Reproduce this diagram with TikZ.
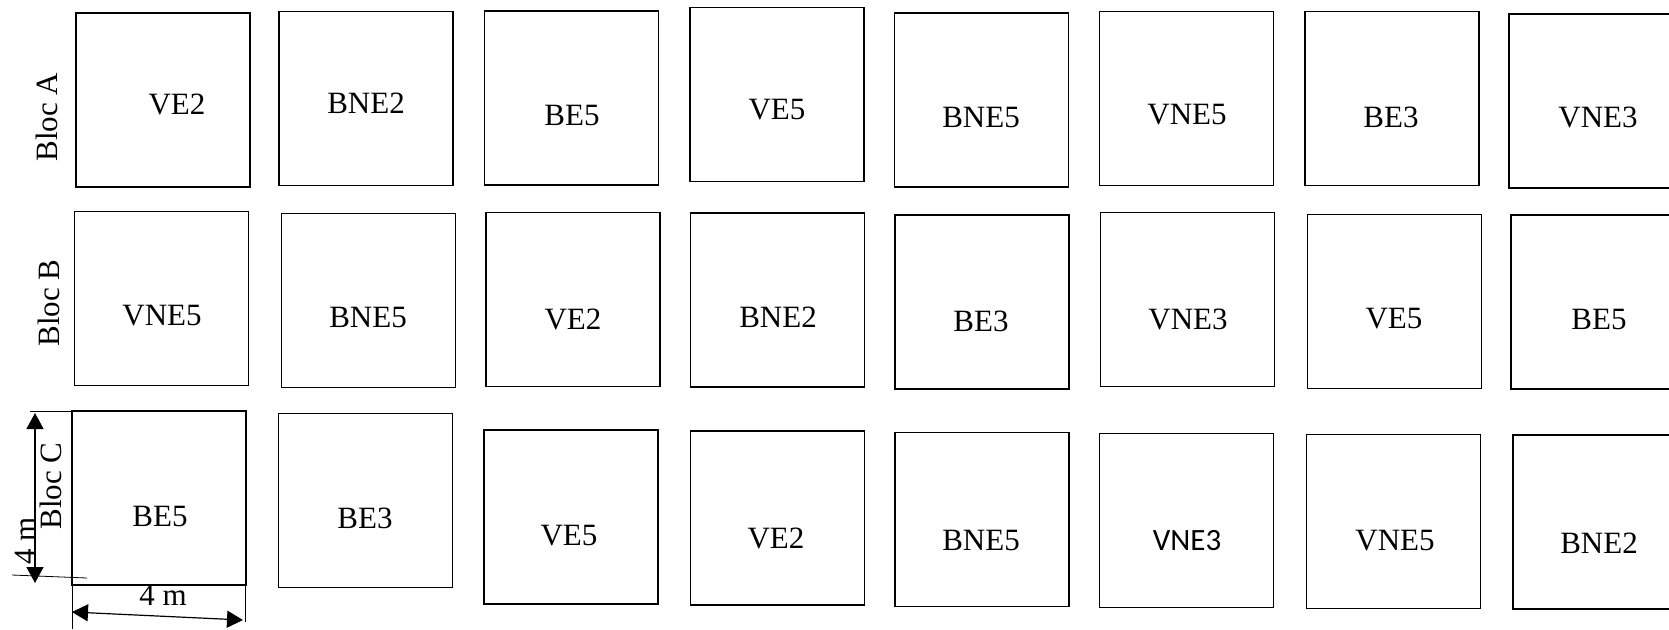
\documentclass[tikz,border=0pt]{standalone}
\usepackage{fontspec}
\setmainfont{Liberation Serif}
\newfontfamily\carlito{Carlito}
\usetikzlibrary{arrows.meta}
\tikzset{
  % --- parcelles -------------------------------------------------------------
  parcelle/.style={rectangle,draw,line width=0.8pt,minimum width=87pt,
                   minimum height=87pt,inner sep=0pt},
  trait/.style={inner sep=0pt,font=\fontsize{15.5}{18}\selectfont},
  bloc/.style={trait,rotate=90},
  % --- cotes -----------------------------------------------------------------
  cote/.style={{Triangle[length=8pt,width=8.5pt]}-{Triangle[length=8pt,width=8.5pt]},
               line width=0.6pt},
  rappel/.style={line width=0.4pt},
}

\begin{document}
\begin{tikzpicture}[x=0.5pt, y=-0.5pt]
  \useasboundingbox (0,0) rectangle (1669,629);
  \clip (0,0) rectangle (1669,629);

  % Bloc A
  \node[parcelle] (A1) at (163,100)    {}; \node[trait] (tA1) at (177,104)  {VE2};
  \node[parcelle] (A2) at (366,98.5)   {}; \node[trait] (tA2) at (366,103)  {BNE2};
  \node[parcelle] (A3) at (571.5,98)   {}; \node[trait] (tA3) at (572,115)  {BE5};
  \node[parcelle] (A4) at (777,94.5)   {}; \node[trait] (tA4) at (777,110)  {VE5};
  \node[parcelle] (A5) at (981.5,100)  {}; \node[trait] (tA5) at (981,117)  {BNE5};
  \node[parcelle] (A6) at (1186.5,98.5){}; \node[trait] (tA6) at (1187,115) {VNE5};
  \node[parcelle] (A7) at (1392,98.5)  {}; \node[trait] (tA7) at (1391,117) {BE3};
  \node[parcelle] (A8) at (1596,101)   {}; \node[trait] (tA8) at (1598,117) {VNE3};

  % Bloc B
  \node[parcelle] (B1) at (161.5,298.5){}; \node[trait] (tB1) at (162,316)  {VNE5};
  \node[parcelle] (B2) at (368.5,300.5){}; \node[trait] (tB2) at (368,317)  {BNE5};
  \node[parcelle] (B3) at (573,299.5)  {}; \node[trait] (tB3) at (573,319)  {VE2};
  \node[parcelle] (B4) at (777.5,300)  {}; \node[trait] (tB4) at (778,317)  {BNE2};
  \node[parcelle] (B5) at (982,302)    {}; \node[trait] (tB5) at (981,321)  {BE3};
  \node[parcelle] (B6) at (1187.5,299.5){};\node[trait] (tB6) at (1188,319) {VNE3};
  \node[parcelle] (B7) at (1394.5,301.5){};\node[trait] (tB7) at (1394,319) {VE5};
  \node[parcelle] (B8) at (1598,302)   {}; \node[trait] (tB8) at (1599,319) {BE5};

  % Bloc C
  \node[parcelle] (C1) at (159,498)    {}; \node[trait] (tC1) at (160,516)  {BE5};
  \node[parcelle] (C2) at (365.5,500.5){}; \node[trait] (tC2) at (365,518)  {BE3};
  \node[parcelle] (C3) at (571,517)    {}; \node[trait] (tC3) at (569,536)  {VE5};
  \node[parcelle] (C4) at (777.5,518)  {}; \node[trait] (tC4) at (776,538)  {VE2};
  \node[parcelle] (C5) at (982,519.5)  {}; \node[trait] (tC5) at (981,540)  {BNE5};
  \node[parcelle] (C6) at (1186.5,520.5){};\node[trait,font=\fontsize{15.5}{18}\carlito] (tC6) at (1187,541) {VNE3};
  \node[parcelle] (C7) at (1393.5,521.5){};\node[trait] (tC7) at (1395,541) {VNE5};
  \node[parcelle] (C8) at (1600,522)   {}; \node[trait] (tC8) at (1599,543) {BNE2};

  % noms des blocs
  \node[bloc] (blocA) at (47,117) {Bloc A};
  \node[bloc] (blocB) at (49,303) {Bloc B};
  \node[bloc] (blocC) at (51,486) {Bloc C};

  % cotes de la parcelle
  \coordinate (h1) at (30,411);  \coordinate (h2) at (97,411);
  \coordinate (b1) at (12,575);  \coordinate (b2) at (87,578);
  \coordinate (v1) at (35,413);  \coordinate (v2) at (35,583);
  \coordinate (g1) at (72,584);  \coordinate (g2) at (72,629);
  \coordinate (d1) at (245,585); \coordinate (d2) at (245,622);
  \coordinate (f1) at (72,612);  \coordinate (f2) at (243,620);
  \draw[rappel] (h1) -- (h2);
  \draw[rappel] (b1) -- (b2);
  \draw[rappel] (g1) -- (g2);
  \draw[rappel] (d1) -- (d2);
  \draw[cote] (v1) -- (v2);
  \draw[cote] (f1) -- (f2);
  \node[bloc] (lv) at (25,541) {4 m};
  \node[trait] (lh) at (163,595) {4 m};
\end{tikzpicture}
\end{document}
